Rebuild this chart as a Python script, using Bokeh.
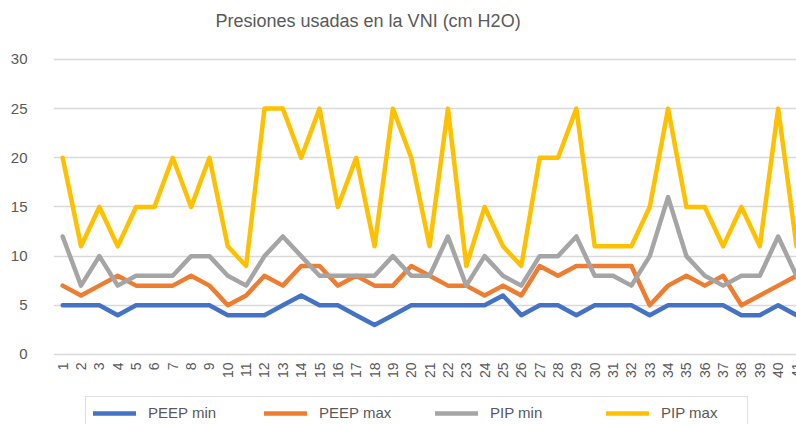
import math
from bokeh.plotting import figure
from bokeh.models import Range1d, FixedTicker, Legend, LegendItem, Grid
from bokeh.core.properties import value
from bokeh.embed import file_html
from bokeh.resources import INLINE

# ---- data ----
days = list(range(1, 42))
day_labels = [str(d) for d in days]
peep_min = [5, 5, 5, 4, 5, 5, 5, 5, 5, 4, 4, 4, 5, 6, 5, 5, 4, 3, 4, 5,
            5, 5, 5, 5, 6, 4, 5, 5, 4, 5, 5, 5, 4, 5, 5, 5, 5, 4, 4, 5, 4]
peep_max = [7, 6, 7, 8, 7, 7, 7, 8, 7, 5, 6, 8, 7, 9, 9, 7, 8, 7, 7, 9,
            8, 7, 7, 6, 7, 6, 9, 8, 9, 9, 9, 9, 5, 7, 8, 7, 8, 5, 6, 7, 8]
pip_min = [12, 7, 10, 7, 8, 8, 8, 10, 10, 8, 7, 10, 12, 10, 8, 8, 8, 8, 10, 8,
           8, 12, 7, 10, 8, 7, 10, 10, 12, 8, 8, 7, 10, 16, 10, 8, 7, 8, 8, 12, 8]
pip_max = [20, 11, 15, 11, 15, 15, 20, 15, 20, 11, 9, 25, 25, 20, 25, 15, 20, 11, 25, 20,
           11, 25, 9, 15, 11, 9, 20, 20, 25, 11, 11, 11, 15, 25, 15, 15, 11, 15, 11, 25, 11]
series_names = ["PEEP min", "PEEP max", "PIP min", "PIP max"]
series_colors = ["#4472C4", "#ED7D31", "#A5A5A5", "#FFC000"]
y_ticks = [0, 5, 10, 15, 20, 25, 30]
title_text = "Presiones usadas en la VNI (cm H2O)"

FONT = "Liberation Sans"
TXT = "#595959"
LABEL_Y = -0.8   # data-space position of the category labels under the 0 line

p = figure(frame_width=743, frame_height=368, output_backend="svg", toolbar_location=None,
           x_range=Range1d(0.5, 41.0), y_range=Range1d(-7.12, 30.3),
           x_axis_location=None,
           min_border_left=53, min_border_right=0, min_border_top=56,
           min_border_bottom=0, title=title_text)

p.title.text_font = FONT
p.title.text_font_size = "18px"
p.title.text_font_style = "normal"
p.title.text_color = TXT
p.title.align = "left"
p.title.offset = 162
try:
    p.title.padding = dict(left=0, right=0, top=0, bottom=26)
    p.title.standoff = 0
except Exception:
    p.title.standoff = 33

p.outline_line_color = None
p.background_fill_color = "white"
p.border_fill_color = "white"

# y axis
p.yaxis.ticker = FixedTicker(ticks=y_ticks)
p.yaxis.major_label_text_font = FONT
p.yaxis.major_label_text_font_size = "15px"
p.yaxis.major_label_text_color = TXT
p.yaxis.major_label_standoff = 20
p.yaxis.axis_line_color = None
p.yaxis.major_tick_line_color = None
p.yaxis.minor_tick_line_color = None

# only horizontal gridlines
for g in list(p.center):
    if isinstance(g, Grid):
        if g.dimension == 0:
            g.visible = False
            g.grid_line_color = None
        else:
            g.grid_line_color = "#D9D9D9"
            g.grid_line_width = 1.3

# category labels (rotated) under the plot area
p.text(x=days, y=[LABEL_Y] * len(days), text=day_labels, angle=math.pi / 2,
       text_align="right", text_baseline="middle",
       text_font=value(FONT), text_font_size="14px", text_color=TXT)

items = []
for name, col, vals in zip(series_names, series_colors, [peep_min, peep_max, pip_min, pip_max]):
    r = p.line(days, vals, line_color=col, line_width=4.5,
               line_join="round", line_cap="round")
    items.append(LegendItem(label=name, renderers=[r]))

legend = Legend(items=items, orientation="horizontal", location=(32, -5),
                glyph_width=43, glyph_height=14, label_standoff=12,
                label_width=79, spacing=37, padding=7, margin=0,
                label_text_font=FONT, label_text_font_size="15px",
                label_text_color=TXT, border_line_color="#BFBFBF",
                border_line_width=1, background_fill_color="white",
                background_fill_alpha=1.0)
p.add_layout(legend, "center")

open("out.html", "w").write(file_html(p, INLINE))
